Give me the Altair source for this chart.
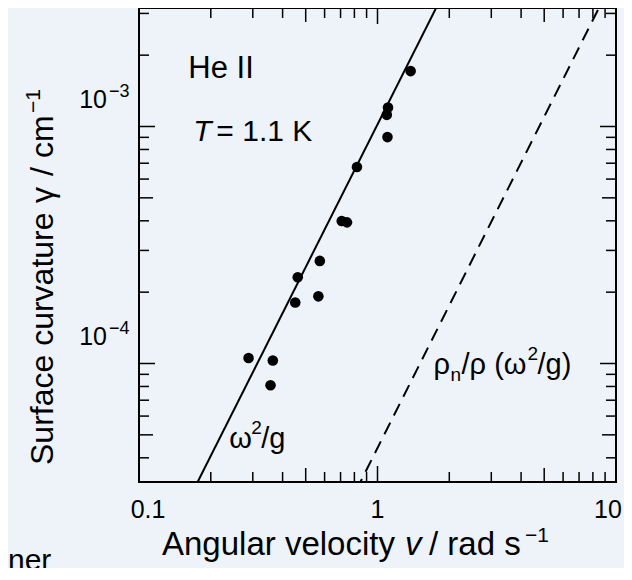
import altair as alt
import pandas as pd

# ---- data ----
omega = [0.288, 0.364, 0.356, 0.463, 0.452, 0.565, 0.573, 0.708, 0.745, 0.820, 1.094, 1.107, 1.101, 1.377]
gamma = [1.055e-4, 1.03e-4, 8.1e-5, 2.31e-4, 1.81e-4, 1.92e-4, 2.71e-4, 3.99e-4, 3.94e-4, 6.75e-4,
         1.12e-3, 1.202e-3, 0.902e-3, 1.713e-3]

line_omega = [0.1, 10.0]
line_classical = [1.02e-5, 1.02e-1]   # omega^2/g
line_normal = [4.4e-7, 4.4e-3]        # rho_n/rho (omega^2/g)

x_ticks_major = [1]
x_ticks_mid = [0.5, 5]
x_ticks_minor = [0.2, 0.3, 0.4, 0.6, 0.7, 0.8, 0.9, 2, 3, 4, 6, 7, 8, 9]
y_ticks_major = [1e-4, 1e-3]
y_ticks_mid = [5e-5, 5e-4]
y_ticks_minor = [4e-5, 6e-5, 7e-5, 8e-5, 9e-5, 2e-4, 3e-4, 4e-4, 6e-4, 7e-4, 8e-4, 9e-4, 2e-3, 3e-3]
x_label_values = [0.1, 1, 10]
x_label_text = ["0.1", "1", "10"]
y_label_values = [1e-4, 1e-3]
y_label_exp = ["\u22124", "\u22123"]

W, H = 477, 474
FONT = "Liberation Sans"
TF = 33  # title font size

xs = alt.Scale(type="log", domain=[0.1, 10], nice=False)
ys = alt.Scale(type="log", domain=[10 ** -4.5, 10 ** -2.5], nice=False)


def X(f):
    return alt.X(f, scale=xs, axis=None)


def Y(f):
    return alt.Y(f, scale=ys, axis=None)


pts_df = pd.DataFrame({"omega": omega, "gamma": gamma})
line_df = pd.DataFrame({"omega": line_omega, "classical": line_classical, "normal": line_normal})

points = alt.Chart(pts_df).mark_circle(size=112, color="black", opacity=1).encode(
    x=X("omega:Q"), y=Y("gamma:Q"))

solid = alt.Chart(line_df).mark_line(color="black", strokeWidth=2, clip=True).encode(
    x=X("omega:Q"), y=Y("classical:Q"))
dashed = alt.Chart(line_df).mark_line(color="black", strokeWidth=2, strokeDash=[13, 8], clip=True).encode(
    x=X("omega:Q"), y=Y("normal:Q"))

layers = [solid, dashed, points]


def xtick_layers(vals, L):
    df = pd.DataFrame({"v": vals})
    b = alt.Chart(df).mark_rule(color="black", strokeWidth=1.5).encode(
        x=X("v:Q"), y=alt.value(H), y2=alt.value(H - L))
    t = alt.Chart(df).mark_rule(color="black", strokeWidth=1.5).encode(
        x=X("v:Q"), y=alt.value(0), y2=alt.value(L))
    return [b, t]


def ytick_layers(vals, L):
    df = pd.DataFrame({"v": vals})
    l = alt.Chart(df).mark_rule(color="black", strokeWidth=1.5).encode(
        y=Y("v:Q"), x=alt.value(0), x2=alt.value(L))
    r = alt.Chart(df).mark_rule(color="black", strokeWidth=1.5).encode(
        y=Y("v:Q"), x=alt.value(W), x2=alt.value(W - L))
    return [l, r]


layers += xtick_layers(x_ticks_major, 16) + xtick_layers(x_ticks_mid, 14) + xtick_layers(x_ticks_minor, 10)
layers += ytick_layers(y_ticks_major, 16) + ytick_layers(y_ticks_mid, 14) + ytick_layers(y_ticks_minor, 10)

# x tick labels
for v, t, dx in zip(x_label_values, x_label_text, [9, 0, -8]):
    layers.append(alt.Chart(pd.DataFrame({"v": [v], "t": [t]})).mark_text(
        align="center", baseline="alphabetic", fontSize=25, font=FONT, color="black", dx=dx
    ).encode(x=X("v:Q"), y=alt.value(H + 36), text="t:N"))

# y tick labels 10^-n
ylab_df = pd.DataFrame({"v": y_label_values, "base": ["10", "10"], "exp": y_label_exp})
layers.append(alt.Chart(ylab_df).mark_text(align="right", baseline="alphabetic", fontSize=25, font=FONT,
                                           dy=-19, color="black").encode(
    x=alt.value(-32), y=Y("v:Q"), text="base:N"))
layers.append(alt.Chart(ylab_df).mark_text(align="left", baseline="alphabetic", fontSize=18, font=FONT,
                                           dy=-30, color="black").encode(
    x=alt.value(-30), y=Y("v:Q"), text="exp:N"))


def txt(text, x, y, size=TF, **kw):
    return alt.Chart(pd.DataFrame({"t": [text]})).mark_text(
        align="left", baseline="alphabetic", fontSize=size, font=FONT, color="black", **kw
    ).encode(x=alt.value(x), y=alt.value(y), text="t:N")


# x axis title
xb = 547
layers.append(txt("Angular velocity", 23, xb))
layers.append(txt("v", 266, xb, fontStyle="italic"))
layers.append(txt("/ rad s", 290, xb))
layers.append(txt("\u22121", 386, xb - 13, size=21))

# y axis title (rotated)
yb = -86
YF = 32
layers.append(txt("Surface curvature", yb, 457, size=YF, angle=270))
layers.append(txt("\u03b3", yb, 195, size=YF, angle=270))
layers.append(txt("/", yb, 168, size=YF, angle=270))
layers.append(txt("cm", yb, 150, size=YF, angle=270))
layers.append(txt("\u22121", yb - 13, 105, size=21, angle=270))


# annotations in data coordinates
def note(text, x, y, size=31, dx=0, dy=0, **kw):
    return alt.Chart(pd.DataFrame({"t": [text], "px": [x], "py": [y]})).mark_text(
        align="left", baseline="alphabetic", fontSize=size, font=FONT, color="black", dx=dx, dy=dy, **kw
    ).encode(x=X("px:Q"), y=Y("py:Q"), text="t:N")


layers.append(note("He II", 0.161, 1.595e-3))
layers.append(note("T", 0.169, 0.865e-3, size=30, fontStyle="italic"))
layers.append(note("= 1.1 K", 0.211, 0.865e-3, size=30))
layers.append(note("\u03c9", 0.239, 4.41e-5, size=29))
layers.append(note("2", 0.239, 4.41e-5, size=19, dx=22, dy=-14))
layers.append(note("/g", 0.239, 4.41e-5, size=29, dx=32))
layers.append(note("\u03c1", 1.718, 9.0e-5, size=29))
layers.append(note("n", 1.718, 9.0e-5, size=19, dx=17, dy=7))
layers.append(note("/\u03c1 (\u03c9", 1.718, 9.0e-5, size=29, dx=28))
layers.append(note("2", 1.718, 9.0e-5, size=19, dx=94, dy=-14))
layers.append(note("/g)", 1.718, 9.0e-5, size=29, dx=104))

layers.append(txt("ner", -131, 562, size=30))

chart = alt.layer(*layers).properties(
    width=W, height=H,
    padding={"left": 131, "top": 0, "right": 8, "bottom": 86},
    autosize="none",
    background="#edf3f9",
).configure_view(stroke="black", strokeWidth=2)

chart.save("out.html", embed_options={"renderer": "svg", "actions": False})
